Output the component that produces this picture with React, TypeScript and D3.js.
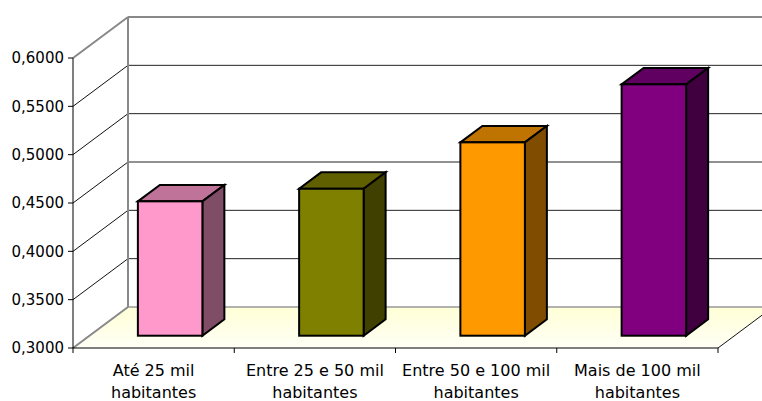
import React from "react";
import * as d3 from "d3";

const categories = [
  ["Até 25 mil", "habitantes"],
  ["Entre 25 e 50 mil", "habitantes"],
  ["Entre 50 e 100 mil", "habitantes"],
  ["Mais de 100 mil", "habitantes"],
];
const values = [0.439, 0.452, 0.5, 0.56];
const frontColors = ["#FF99CC", "#808000", "#FF9900", "#800080"];
const topColors = ["#BF7399", "#606000", "#BF7300", "#600060"];
const sideColors = ["#804D66", "#404000", "#804D00", "#400040"];
const yTicks = [0.3, 0.35, 0.4, 0.45, 0.5, 0.55, 0.6];

const W = 762;
const H = 401;
const left = 73;
const right = 718;
const bottom = 348;
const top = 58;
const depthX = 55;
const depthY = 41;
const barFront = 0.3;
const barBack = 0.7;

export default function App() {
  const keys = categories.map((c) => c.join(" "));
  const x = d3.scaleBand<string>().domain(keys).range([left, right]).paddingInner(0).paddingOuter(0);
  const y = d3.scaleLinear().domain([0.3, 0.6]).range([bottom, top]);
  const fmt = (v: number) => v.toFixed(4).replace(".", ",");
  const bw = x.bandwidth();
  const bar = bw * 0.4;

  const floor: [number, number][] = [
    [left, bottom],
    [right, bottom],
    [right + depthX, bottom - depthY],
    [left + depthX, bottom - depthY],
  ];
  const poly = (pts: [number, number][]) => pts.map((p) => p.join(",")).join(" ");

  return (
    <svg width={W} height={H} style={{ position: "absolute", left: 0, top: 0 }}>
      <defs>
        <linearGradient id="floorFill" x1="0" y1="1" x2="0" y2="0">
          <stop offset="0%" stopColor="#FFFFF6" />
          <stop offset="100%" stopColor="#FFFFD6" />
        </linearGradient>
      </defs>
      <rect width={W} height={H} fill="#fff" />
      {/* floor */}
      <polygon points={poly(floor)} fill="url(#floorFill)" />
      {/* back wall and side wall gridlines */}
      {yTicks.slice(1, -1).map((t) => (
        <g key={t}>
          <line x1={left + depthX} x2={right + depthX} y1={y(t) - depthY} y2={y(t) - depthY} stroke="#222" strokeWidth={1} />
          <line x1={left} x2={left + depthX} y1={y(t)} y2={y(t) - depthY} stroke="#111" strokeWidth={1} />
        </g>
      ))}
      {/* wall borders */}
      <line x1={left + depthX} x2={right + depthX} y1={y(0.6) - depthY} y2={y(0.6) - depthY} stroke="#888" strokeWidth={2} />
      <line x1={left + depthX} x2={right + depthX} y1={y(0.3) - depthY} y2={y(0.3) - depthY} stroke="#999" strokeWidth={1.5} />
      <line x1={left + depthX} x2={left + depthX} y1={y(0.6) - depthY} y2={y(0.3) - depthY} stroke="#888" strokeWidth={2} />
      <line x1={left} x2={left + depthX} y1={y(0.6)} y2={y(0.6) - depthY} stroke="#888" strokeWidth={2} />
      <line x1={left} x2={left + depthX} y1={y(0.3)} y2={y(0.3) - depthY} stroke="#888" strokeWidth={2} />
      <line x1={right} x2={right + depthX} y1={bottom} y2={bottom - depthY} stroke="#111" strokeWidth={1} />
      {/* bars */}
      {values.map((v, i) => {
        const x0 = (x(keys[i]) as number) + (bw - bar) / 2;
        const fx = x0 + barFront * depthX;
        const fyOff = -barFront * depthY;
        const bdx = (barBack - barFront) * depthX;
        const bdy = (barBack - barFront) * depthY;
        const yb = y(0.3) + fyOff;
        const yt = y(v) + fyOff;
        return (
          <g key={i} stroke="#000" strokeWidth={2} strokeLinejoin="miter">
            <polygon
              points={poly([
                [fx, yt],
                [fx + bar, yt],
                [fx + bar + bdx, yt - bdy],
                [fx + bdx, yt - bdy],
              ])}
              fill={topColors[i]}
            />
            <polygon
              points={poly([
                [fx + bar, yt],
                [fx + bar + bdx, yt - bdy],
                [fx + bar + bdx, yb - bdy],
                [fx + bar, yb],
              ])}
              fill={sideColors[i]}
            />
            <rect x={fx} y={yt} width={bar} height={yb - yt} fill={frontColors[i]} />
          </g>
        );
      })}
      {/* front axes */}
      <line x1={left} x2={left} y1={top} y2={bottom} stroke="#000" strokeWidth={1} />
      <line x1={left} x2={right} y1={bottom} y2={bottom} stroke="#000" strokeWidth={1} />
      {yTicks.map((t) => (
        <g key={t}>
          <line x1={left - 5} x2={left} y1={y(t)} y2={y(t)} stroke="#000" />
          <text
            x={left - 9}
            y={y(t)}
            dy="0.36em"
            textAnchor="end"
            fontFamily="DejaVu Sans, sans-serif"
            fontSize={15}
            fill="#000"
          >
            {fmt(t)}
          </text>
        </g>
      ))}
      {keys.map((k) => (
        <line key={k} x1={x(k) as number} x2={x(k) as number} y1={bottom} y2={bottom + 5} stroke="#000" />
      ))}
      <line x1={right} x2={right} y1={bottom} y2={bottom + 5} stroke="#000" />
      {categories.map((c, i) => (
        <text
          key={i}
          x={(x(keys[i]) as number) + bw / 2}
          textAnchor="middle"
          fontFamily="DejaVu Sans, sans-serif"
          fontSize={16}
          fill="#000"
        >
          <tspan x={(x(keys[i]) as number) + bw / 2} y={376}>
            {c[0]}
          </tspan>
          <tspan x={(x(keys[i]) as number) + bw / 2} y={398}>
            {c[1]}
          </tspan>
        </text>
      ))}
    </svg>
  );
}
